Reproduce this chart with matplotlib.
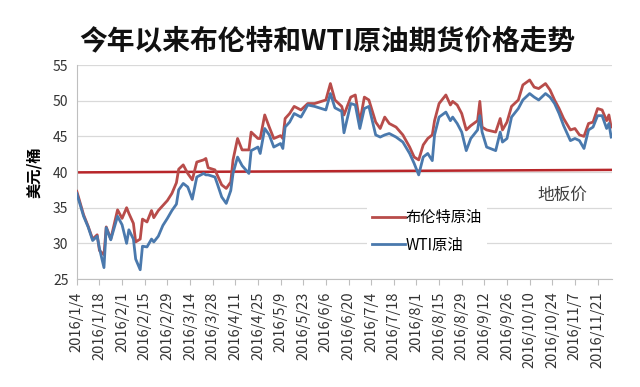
import matplotlib
matplotlib.use("Agg")
import matplotlib.pyplot as plt
import pandas as pd

plt.rcParams['font.family'] = ['Noto Sans CJK SC', 'DejaVu Sans']

# 交易日序号(从2016/1/4起)及读图得到的价格(美元/桶)
trading_day = [0, 3, 5, 7, 9, 10, 12, 13, 15, 18, 20, 22, 23, 25, 26, 28, 29, 31, 33, 34,
               36, 38, 40, 42, 44, 45, 47, 49, 51, 53, 56, 57, 58, 61, 62, 64, 66, 68, 69, 71,
               73, 76, 77, 80, 81, 83, 85, 87, 90, 91, 92, 94, 96, 99, 102, 105, 108, 110, 112, 114,
               117, 118, 121, 123, 125, 127, 129, 132, 134, 136, 138, 141, 144, 147, 149, 151, 153, 155, 157, 158,
               160, 163, 165, 166, 168, 170, 172, 174, 177, 178, 179, 181, 185, 187, 188, 190, 192, 195, 197, 200,
               202, 204, 207, 209, 211, 213, 215, 218, 220, 222, 224, 226, 228, 230, 232, 234, 235, 236]

brent = [37.3, 34.0, 32.4, 30.6, 31.2, 29.0, 28.4, 32.3, 30.6, 34.7, 33.5, 35.0, 34.2, 32.8, 30.2, 30.6, 33.4, 33.0, 34.6, 33.6,
         34.6, 35.3, 36.0, 37.0, 38.5, 40.4, 41.0, 39.8, 38.9, 41.4, 41.7, 41.9, 40.6, 40.3, 39.6, 38.2, 37.7, 38.6, 41.7, 44.7,
         43.1, 43.1, 45.6, 44.7, 44.7, 48.0, 46.3, 44.7, 45.1, 44.7, 47.5, 48.2, 49.2, 48.7, 49.6, 49.6, 49.9, 50.1, 52.4, 50.1,
         49.2, 48.0, 50.5, 50.8, 47.0, 50.5, 50.1, 47.0, 46.1, 47.7, 46.8, 46.3, 45.2, 43.5, 42.1, 41.7, 43.8, 44.7, 45.2, 47.2,
         49.6, 50.8, 49.4, 49.9, 49.4, 48.2, 45.9, 46.5, 47.2, 49.9, 46.3, 45.9, 45.6, 47.5, 45.9, 47.0, 49.2, 50.1, 52.2, 52.9,
         51.9, 51.7, 52.4, 51.5, 50.1, 48.9, 47.5, 45.9, 46.1, 45.2, 45.0, 46.8, 47.0, 48.9, 48.7, 47.2, 48.0, 46.3]

wti = [37.0, 33.8, 32.3, 30.4, 31.0, 29.3, 26.6, 32.2, 30.5, 33.8, 32.6, 30.0, 31.9, 30.6, 27.8, 26.3, 29.6, 29.5, 30.6, 30.2,
       31.0, 32.5, 33.5, 34.6, 35.5, 37.5, 38.4, 37.9, 36.2, 39.3, 39.8, 39.6, 39.6, 39.3, 38.4, 36.5, 35.6, 37.4, 39.8, 42.1,
       40.9, 39.8, 43.0, 43.5, 42.6, 46.1, 45.2, 43.5, 44.0, 43.3, 46.3, 47.0, 48.2, 47.7, 49.4, 49.2, 48.9, 48.7, 51.0, 49.0,
       48.5, 45.5, 49.6, 49.4, 46.1, 48.9, 49.2, 45.2, 44.9, 45.2, 45.4, 44.9, 44.2, 42.6, 41.2, 39.6, 42.1, 42.6, 41.6, 45.2,
       47.7, 48.4, 47.2, 47.7, 46.8, 45.6, 43.0, 44.7, 45.9, 47.9, 45.6, 43.5, 43.0, 45.6, 44.2, 44.7, 47.7, 48.9, 50.1, 51.0,
       50.5, 50.1, 51.0, 50.5, 49.6, 48.2, 46.5, 44.4, 44.7, 44.4, 43.3, 45.9, 46.3, 47.9, 47.9, 46.1, 46.8, 44.9]

floor_day = [0, 236]
floor_price = [39.95, 40.3]

dates = pd.bdate_range('2016-01-04', periods=237)
tick_pos = list(range(0, 231, 10))
tick_labels = [f"{d.year}/{d.month}/{d.day}" for d in dates[tick_pos]]

fig = plt.figure(figsize=(6.4, 3.87), dpi=100)
ax = fig.add_axes([0.120, 0.279, 0.836, 0.553])

ax.set_ylim(25, 55)
ax.set_xlim(0, 236.3)
ax.set_yticks(range(25, 56, 5))
ax.yaxis.grid(True, color='#d9d9d9', lw=0.9)
ax.set_axisbelow(True)

ax.plot(floor_day, floor_price, color='#b8262a', lw=1.8, zorder=2)
l1, = ax.plot(trading_day, brent, color='#b84c4a', lw=2.0, zorder=3, label='布伦特原油')
l2, = ax.plot(trading_day, wti, color='#4a79ad', lw=2.0, zorder=3, label='WTI原油')

ax.set_xticks(tick_pos)
ax.set_xticklabels(tick_labels, rotation=90, fontsize=10.5, color='#333333')
ax.tick_params(axis='x', length=4, color='#bfbfbf', pad=5)
ax.tick_params(axis='y', length=0, labelsize=10, labelcolor='#333333', pad=6)
for s in ['top', 'right']:
    ax.spines[s].set_visible(False)
for s in ['left', 'bottom']:
    ax.spines[s].set_color('#bfbfbf')

ax.set_ylabel('美元/桶', fontsize=11, fontweight='bold', labelpad=8)

leg = ax.legend(handles=[l1, l2], loc='upper left', bbox_to_anchor=(0.528, 0.385),
                fontsize=11, frameon=True, handlelength=2.2, labelspacing=0.7,
                handletextpad=0.05, borderpad=0.3)
leg.get_frame().set_facecolor('white')
leg.get_frame().set_edgecolor('none')
leg.get_frame().set_alpha(1)

ax.text(0.908, 0.39, '地板价', transform=ax.transAxes, fontsize=12,
        color='#404040', ha='center', va='center')

fig.text(0.512, 0.892, '今年以来布伦特和WTI原油期货价格走势', fontsize=20,
         fontweight='bold', ha='center', va='center', color='#111111')

fig.savefig('out.png', dpi=100)
